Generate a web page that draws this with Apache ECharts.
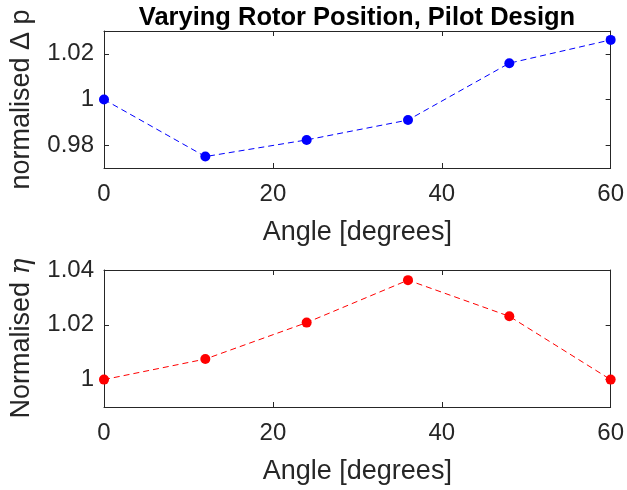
<!DOCTYPE html>
<html>
<head>
<meta charset="utf-8">
<script src="https://cdn.jsdelivr.net/npm/echarts@6/dist/echarts.min.js"></script>
<style>
  html, body { margin: 0; padding: 0; background: #fff; }
  #chart { width: 627px; height: 490px; }
</style>
</head>
<body>
<div id="chart"></div>
<script>
// Rotor angle positions (degrees)
const angles = [0, 12, 24, 36, 48, 60];
// Normalised pressure drop at each rotor angle
const pressureDrop = [1.000, 0.975, 0.9823, 0.991, 1.0159, 1.0261];
// Normalised efficiency at each rotor angle
const efficiency = [1.000, 1.0075, 1.0208, 1.0363, 1.0231, 1.000];
// Tick values
const xTicks = [0, 20, 40, 60];
const dpTicks = [0.98, 1, 1.02];
const etaTicks = [1, 1.02, 1.04];

const FONT = "'Liberation Sans', Helvetica, Arial, sans-serif";
const AX = '#262626';
const fmt = v => String(+Number(v).toFixed(2));

function xAx(gridIndex, shown) {
  return {
    type: 'value', gridIndex, min: xTicks[0], max: xTicks[xTicks.length - 1], interval: xTicks[1] - xTicks[0],
    position: shown ? 'bottom' : 'top',
    name: shown ? 'Angle [degrees]' : '',
    nameLocation: 'middle', nameGap: 51,
    nameTextStyle: { fontFamily: FONT, fontSize: 27, color: AX },
    axisLine: { show: true, onZero: false, lineStyle: { color: AX, width: 1 } },
    axisTick: { show: true, inside: true, length: 5, lineStyle: { color: AX } },
    axisLabel: { show: shown, margin: 14, fontFamily: FONT, fontSize: 24, color: AX, formatter: fmt },
    splitLine: { show: false }
  };
}
function yAx(gridIndex, shown, min, max, ticks, name) {
  return {
    type: 'value', gridIndex, min, max,
    position: shown ? 'left' : 'right',
    name: shown ? name : '',
    nameLocation: 'middle', nameGap: 69, nameRotate: 90,
    nameTextStyle: {
      fontFamily: FONT, fontSize: 27, color: AX,
      rich: {
        t: { fontFamily: FONT, fontSize: 27, color: AX },
        m: { fontFamily: "'DejaVu Serif', 'Liberation Serif', serif", fontStyle: 'italic', fontSize: 27, color: AX }
      }
    },
    axisLine: { show: true, onZero: false, lineStyle: { color: AX, width: 1 } },
    axisTick: { show: true, inside: true, length: 5, customValues: ticks, lineStyle: { color: AX } },
    axisLabel: { show: shown, margin: 10, customValues: ticks, fontFamily: FONT, fontSize: 24, color: AX, formatter: fmt },
    splitLine: { show: false }
  };
}

const chart = echarts.init(document.getElementById('chart'), null, { renderer: 'canvas' });
chart.setOption({
  backgroundColor: '#ffffff',
  animation: false,
  title: {
    text: 'Varying Rotor Position, Pilot Design',
    left: 352, top: 0, textAlign: 'center',
    textStyle: { fontFamily: FONT, fontSize: 25.5, fontWeight: 'bold', color: '#000' }
  },
  grid: [
    { left: 103, right: 14, top: 31, height: 137 },
    { left: 103, right: 14, top: 270, height: 137 }
  ],
  xAxis: [xAx(0, true), xAx(0, false), xAx(1, true), xAx(1, false)],
  yAxis: [
    yAx(0, true, 0.97, 1.03, dpTicks, 'normalised \u0394 p'),
    yAx(0, false, 0.97, 1.03, dpTicks, ''),
    yAx(1, true, 0.99, 1.04, etaTicks, '{t|Normalised }{m|\u03b7}'),
    yAx(1, false, 0.99, 1.04, etaTicks, '')
  ],
  series: [
    {
      type: 'line', xAxisIndex: 0, yAxisIndex: 0,
      data: angles.map((a, i) => [a, pressureDrop[i]]),
      symbol: 'circle', symbolSize: 10,
      lineStyle: { color: '#0000ff', width: 1, type: [6, 4] },
      itemStyle: { color: '#0000ff' }
    },
    {
      type: 'line', xAxisIndex: 2, yAxisIndex: 2,
      data: angles.map((a, i) => [a, efficiency[i]]),
      symbol: 'circle', symbolSize: 10,
      lineStyle: { color: '#ff0000', width: 1, type: [6, 4] },
      itemStyle: { color: '#ff0000' }
    }
  ]
});
</script>
</body>
</html>
